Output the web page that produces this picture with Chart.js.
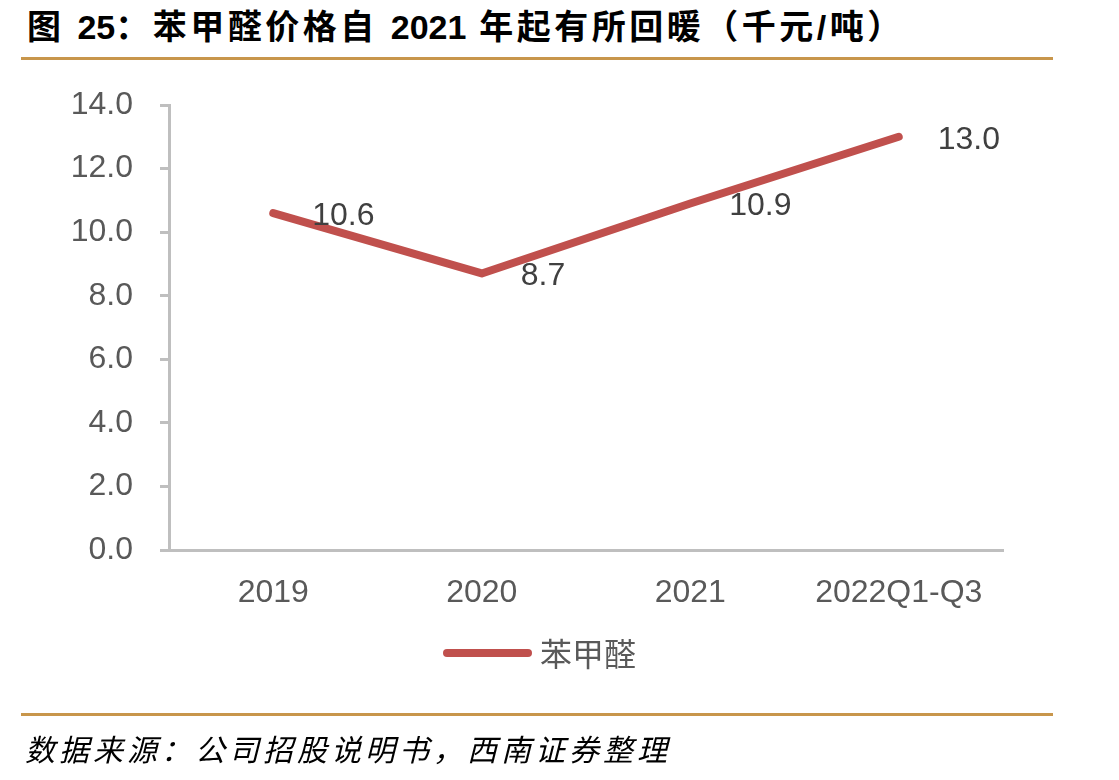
<!DOCTYPE html>
<html>
<head>
<meta charset="utf-8">
<script src="https://cdn.jsdelivr.net/npm/chart.js@4/dist/chart.umd.min.js"></script>
<style>
  body { margin: 0; background: #fff; width: 1119px; height: 780px; overflow: hidden; position: relative; }
  #chart { position: absolute; left: 0; top: 0; }
  .title {
    position: absolute; left: 27px; top: 7px;
    font-family: "Liberation Sans", "Noto Sans CJK SC", sans-serif;
    font-weight: bold; font-size: 34px; letter-spacing: 3.5px; color: #000;
    line-height: 40px; white-space: nowrap;
  }
  .title .n { letter-spacing: 0; }
  .rule { position: absolute; left: 21px; width: 1032px; height: 3px; background: #C8964B; }
  .source {
    position: absolute; left: 25px; top: 728px;
    font-family: "Noto Sans CJK SC", sans-serif; font-style: italic;
    font-size: 30px; letter-spacing: 4px; color: #000; line-height: 40px; white-space: nowrap;
  }
</style>
</head>
<body>
<div class="title">图 <span class="n">25</span>：苯甲醛价格自 <span class="n">2021</span> 年起有所回暖（千元/吨）</div>
<div class="rule" style="top:57px"></div>
<canvas id="chart" width="1119" height="780"></canvas>
<div class="rule" style="top:713px"></div>
<div class="source">数据来源：公司招股说明书，西南证券整理</div>
<script>
const categories = ["2019", "2020", "2021", "2022Q1-Q3"];
const prices = [10.6, 8.7, 10.9, 13.0];
const yTicks = [0, 2, 4, 6, 8, 10, 12, 14];
const seriesName = "苯甲醛";

const valueLabels = {
    id: "valueLabels",
    afterDatasetsDraw(chart) {
        const ctx = chart.ctx;
        const meta = chart.getDatasetMeta(0);
        ctx.save();
        ctx.font = "32px 'Liberation Sans', Arial, sans-serif";
        ctx.fillStyle = "#404040";
        ctx.textAlign = "left";
        ctx.textBaseline = "middle";
        meta.data.forEach((pt, i) => {
            ctx.fillText(prices[i].toFixed(1), pt.x + 39, pt.y + 3);
        });
        ctx.restore();
    }
};

const lineLegend = {
    id: "lineLegend",
    afterDraw(chart) {
        const ctx = chart.ctx;
        const ds = chart.data.datasets[0];
        ctx.save();
        ctx.strokeStyle = ds.borderColor;
        ctx.lineWidth = 8;
        ctx.lineCap = "round";
        ctx.beginPath();
        ctx.moveTo(447, 653);
        ctx.lineTo(528, 653);
        ctx.stroke();
        ctx.font = "32px 'Noto Sans CJK SC', sans-serif";
        ctx.fillStyle = "#595959";
        ctx.textBaseline = "middle";
        ctx.fillText(ds.label, 540, 654);
        ctx.restore();
    }
};

const ctx = document.getElementById("chart");

new Chart(ctx, {
    type: "line",
    data: {
        labels: categories,
        datasets: [{
            label: seriesName,
            data: prices,
            borderColor: "#C0504D",
            backgroundColor: "#C0504D",
            borderWidth: 8,
            borderCapStyle: "round",
            borderJoinStyle: "round",
            pointRadius: 0,
            tension: 0
        }]
    },
    options: {
        responsive: false,
        animation: false,
        layout: {
            padding: { top: 105, right: 116, bottom: 170, left: 0 }
        },
        plugins: {
            legend: { display: false },
            tooltip: { enabled: false }
        },
        scales: {
            x: {
                offset: true,
                grid: { display: false, drawTicks: false },
                border: { color: "#BFBFBF", width: 3 },
                ticks: {
                    color: "#595959",
                    font: { family: "'Liberation Sans', Arial, sans-serif", size: 32 },
                    padding: 24,
                    maxRotation: 0
                },
                afterFit(scale) { scale.height = 60; }
            },
            y: {
                min: 0,
                max: 14,
                afterBuildTicks(scale) {
                    scale.ticks = yTicks.map(v => ({ value: v }));
                },
                grid: {
                    drawOnChartArea: false,
                    drawTicks: true,
                    tickLength: 9,
                    color: "#BFBFBF",
                    lineWidth: 3
                },
                border: { color: "#BFBFBF", width: 3 },
                ticks: {
                    color: "#595959",
                    font: { family: "'Liberation Sans', Arial, sans-serif", size: 32 },
                    padding: 27,
                    callback: v => v.toFixed(1)
                },
                afterFit(scale) { scale.width = 169; }
            }
        }
    },
    plugins: [valueLabels, lineLegend]
});
</script>
</body>
</html>
